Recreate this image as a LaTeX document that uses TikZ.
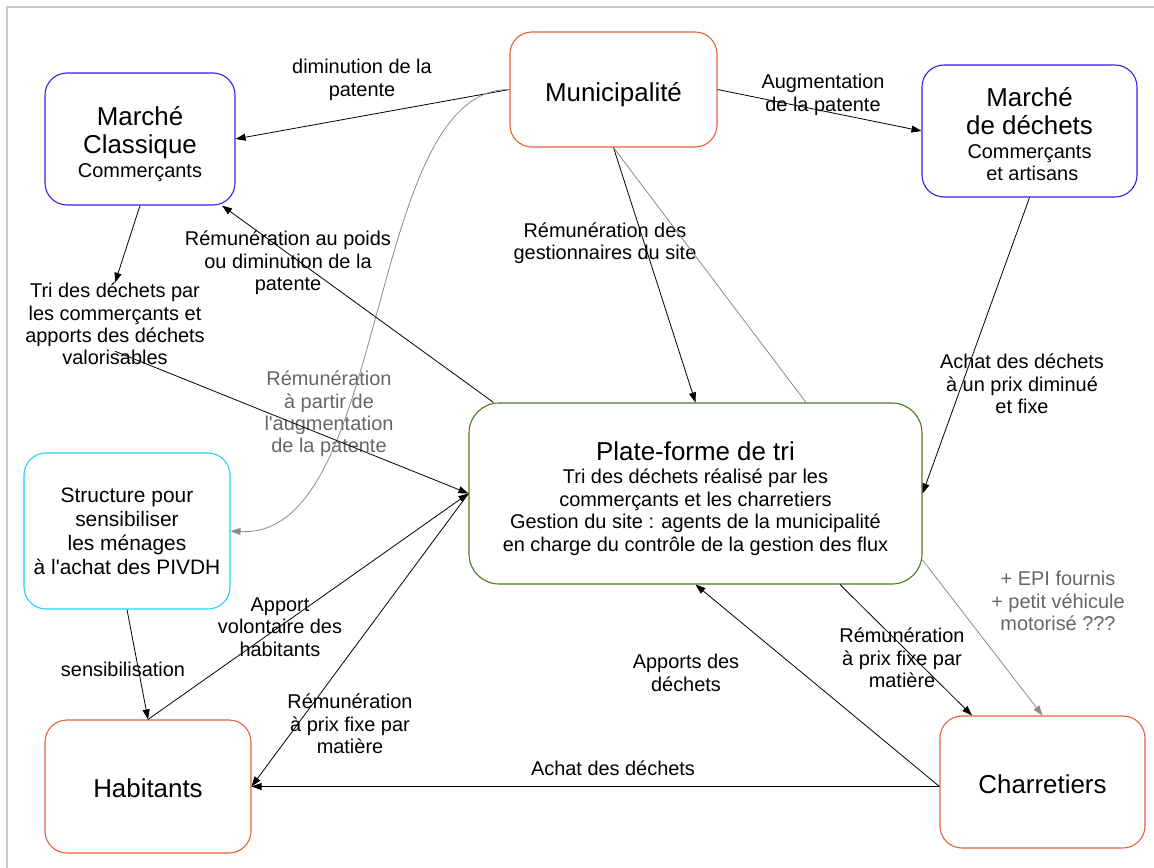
\documentclass[tikz,border=0pt]{standalone}
\usepackage{fontspec}
\setmainfont{Liberation Sans}[Ligatures=TeXOff]
\usepackage{tikz}
\usetikzlibrary{arrows.meta}
\definecolor{bleu}{HTML}{3322EE}
\definecolor{brique}{HTML}{E8603A}
\definecolor{olive}{HTML}{4A7A1A}
\definecolor{ciel}{HTML}{22D3FF}
\definecolor{gristrait}{HTML}{8A8A8A}
\definecolor{gristexte}{HTML}{666666}
\definecolor{cadre}{HTML}{C8C8C8}
\newcommand{\grandtxt}{\fontsize{26}{29}\selectfont}
% abaisse une ligne sans changer la taille de la boite
\newcommand{\bas}[2][5bp]{\raisebox{-#1}[\height][\depth]{#2}}
\tikzset{
  acteur/.style={
    rectangle, draw=#1, line width=1.1bp, rounded corners=22bp,
    font=\fontsize{20}{22.5}\selectfont, align=center,
    inner sep=2bp
  },
  acteur/.default=bleu,
  etiquette/.style={
    font=\fontsize{20}{22.5}\selectfont, align=center,
    inner sep=0pt, text=#1
  },
  etiquette/.default=black,
  flux/.style={
    -{Triangle[length=10bp,width=7bp]}, line width=0.8bp, color=#1
  },
  flux/.default=black,
}

\begin{document}
\begin{tikzpicture}[x=1bp, y=-1bp]
  \useasboundingbox (0,0) rectangle (1154,868);
  \draw[cadre, line width=1.5bp] (7,868) -- (7,7) -- (1154,7);

  % acteurs
  \node[acteur, minimum width=190bp, minimum height=132bp] (mc) at (140,139)
    {\bas{\grandtxt Marché}\\[6bp]\bas{\grandtxt Classique}\\[1bp]\bas{Commerçants}};
  \node[acteur=brique, minimum width=207bp, minimum height=115bp] (muni) at (613.5,89.5)
    {\bas{\grandtxt Municipalité}};
  \node[acteur, minimum width=215bp, minimum height=132bp] (md) at (1029.5,131)
    {\bas[3bp]{\grandtxt Marché}\\[6bp]\bas[3bp]{\grandtxt de déchets}\\[1bp]
     \bas[3bp]{Commerçants}\\\bas[3bp]{ et artisans}};
  \node[acteur=olive, rounded corners=30bp, minimum width=453bp, minimum height=181bp] (plat) at (695.5,493.5)
    {\bas{\grandtxt Plate-forme de tri}\\[1bp]\bas{Tri des déchets réalisé par les}\\
     \bas{commerçants et les charretiers}\\\bas{Gestion du site : agents de la municipalité}\\
     \bas{en charge du contrôle de la gestion des flux}};
  \node[acteur=ciel, font=\fontsize{21}{24}\selectfont, minimum width=206bp, minimum height=156bp] (struct) at (127,531)
    {Structure pour\\ sensibiliser\\les ménages\\ à l'achat des PIVDH};
  \node[acteur=brique, minimum width=206bp, minimum height=133bp] (hab) at (148,786.5)
    {\bas[2bp]{\grandtxt Habitants}};
  \node[acteur=brique, minimum width=205bp, minimum height=132bp] (charr) at (1042.5,782)
    {\bas[2bp]{\grandtxt Charretiers}};
  \node[etiquette] (tri) at (115,324)
    {Tri des déchets par\\les commerçants et\\apports des déchets\\valorisables};

  % etiquettes
  \node[etiquette] (l1) at (362,80) {diminution de la\\patente};
  \node[etiquette] (l2) at (823,95) {Augmentation\\de la patente};
  \node[etiquette] (l3) at (605,243) {Rémunération des\\gestionnaires du site};
  \node[etiquette] (l4) at (288,263) {Rémunération au poids\\ou diminution de la\\patente};
  \node[etiquette=gristexte] (l5) at (329,414) {Rémunération\\à partir de\\l'augmentation\\de la patente};
  \node[etiquette] (l6) at (1022,384) {Achat des déchets\\à un prix diminué\\et fixe};
  \node[etiquette=gristexte] (l7) at (1058,601) {+ EPI fournis\\+ petit véhicule\\motorisé ???};
  \node[etiquette] (l8) at (280,627) {Apport\\volontaire des\\habitants};
  \node[etiquette] (l9) at (123,669) {sensibilisation};
  \node[etiquette] (l10) at (350,724) {Rémunération\\à prix fixe par\\matière};
  \node[etiquette] (l11) at (613,768) {Achat des déchets};
  \node[etiquette] (l12) at (686,673) {Apports des\\déchets};
  \node[etiquette] (l13) at (902,658) {Rémunération\\à prix fixe par\\matière};

  % flux
  \draw[flux] (muni.west) -- (mc.east);
  \draw[flux] (muni.east) -- (md.west);
  \draw[flux] (muni.south) -- (plat.north);
  \draw[gristrait, line width=0.8bp] (muni.south) -- ([xshift=110.5bp]plat.north);
  \draw[flux=gristrait] (muni.west) .. controls (365,88) and (390,540) .. (struct.east);
  \draw[flux] ([xshift=-202bp]plat.north) -- ([xshift=82bp]mc.south);
  \draw[flux] (md.south) -- (plat.east);
  \draw[flux] (mc.south) -- (tri.north);
  \draw[flux] ([yshift=14bp]tri.south) -- (plat.west);
  \draw[flux] (hab.north) -- (plat.west);
  \draw[flux] (plat.west) -- (hab.east);
  \draw[flux] (struct.south) -- (hab.north);
  \draw[flux] (charr.west |- hab.east) -- (hab.east);
  \draw[flux] (charr.west |- hab.east) -- (plat.south);
  \draw[flux] ([xshift=144.5bp]plat.south) -- ([xshift=-70.5bp]charr.north);
  \draw[flux=gristrait] ([yshift=-66.5bp]plat.east) -- (charr.north);
\end{tikzpicture}
\end{document}
